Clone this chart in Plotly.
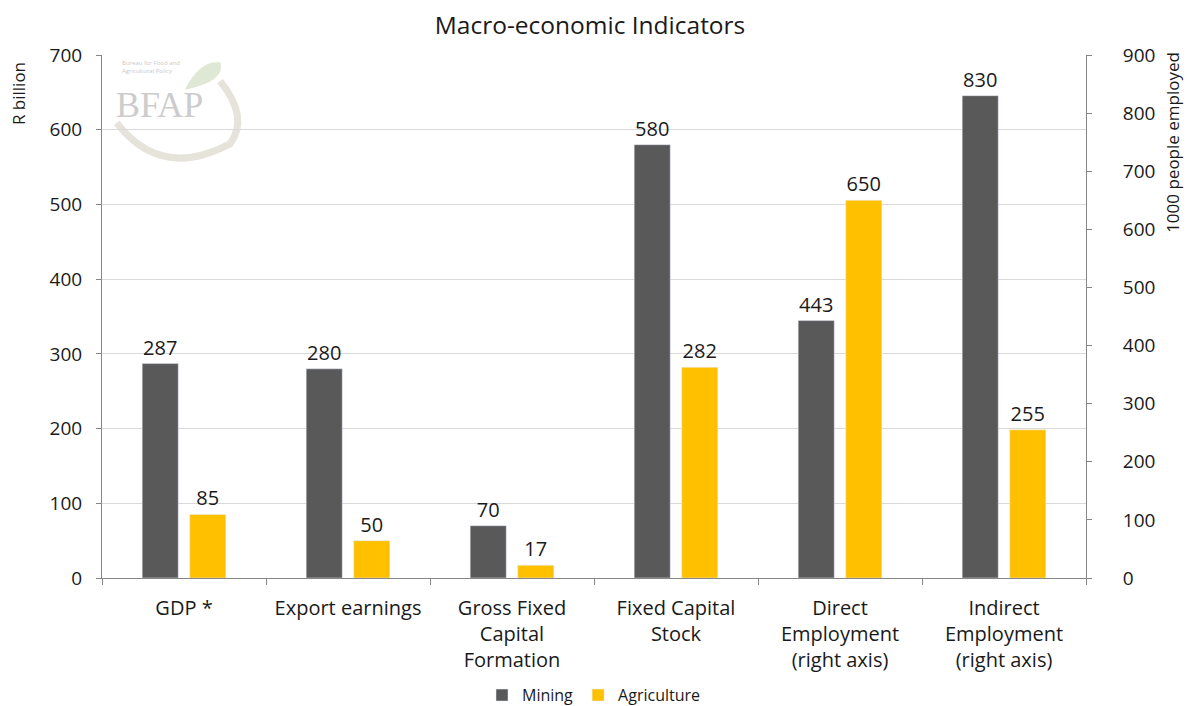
import plotly.graph_objects as go

categories = ["GDP *", "Export earnings", "Gross Fixed<br>Capital<br>Formation",
              "Fixed Capital<br>Stock", "Direct<br>Employment<br>(right axis)",
              "Indirect<br>Employment<br>(right axis)"]
mining_left = [287, 280, 70, 580, None, None]
agri_left = [85, 50, 17, 282, None, None]
mining_right = [None, None, None, None, 443, 830]
agri_right = [None, None, None, None, 650, 255]

MINING = "#595959"
AGRI = "#FFC000"
FONT = "Open Sans"
TXT = "#1a1a1a"

def labels(vals):
    return ["" if v is None else str(v) for v in vals]

fig = go.Figure()
W = 0.22
common = dict(textposition="outside", cliponaxis=False,
              textfont=dict(size=20, color=TXT, family=FONT), width=W)
fig.add_trace(go.Bar(x=categories, y=mining_left, name="Mining", marker_color=MINING,
                     offset=-0.255, text=labels(mining_left), legendgroup="m", **common))
fig.add_trace(go.Bar(x=categories, y=agri_left, name="Agriculture", marker_color=AGRI,
                     offset=0.035, text=labels(agri_left), legendgroup="a", **common))
fig.add_trace(go.Bar(x=categories, y=mining_right, name="Mining", marker_color=MINING,
                     offset=-0.255, text=labels(mining_right), legendgroup="m",
                     showlegend=False, yaxis="y2", **common))
fig.add_trace(go.Bar(x=categories, y=agri_right, name="Agriculture", marker_color=AGRI,
                     offset=0.035, text=labels(agri_right), legendgroup="a",
                     showlegend=False, yaxis="y2", **common))

axis_col = "#868686"
fig.update_layout(
    width=1184, height=698,
    margin=dict(l=94, r=106, t=47, b=128, autoexpand=False),
    paper_bgcolor="white", plot_bgcolor="white",
    barmode="overlay",
    font=dict(family=FONT, color=TXT),
    title=dict(text="Macro-economic Indicators", x=0.4916, xanchor="center",
               y=0.9756, yanchor="middle", font=dict(size=24.5, color=TXT)),
    xaxis=dict(type="category", tickson="boundaries", ticks="outside", ticklen=6,
               tickcolor=axis_col, showline=True, linecolor=axis_col, linewidth=1,
               tickfont=dict(size=20, color=TXT), showgrid=False, automargin=False,
               ticklabelstandoff=12),
    yaxis=dict(range=[0, 700], dtick=100, showline=True, linecolor=axis_col,
               ticks="outside", ticklen=5, tickcolor=axis_col,
               gridcolor="#d9d9d9", gridwidth=1, zeroline=False, automargin=False,
               tickfont=dict(size=19, color=TXT), ticklabelstandoff=10),
    yaxis2=dict(range=[0, 900], dtick=100, overlaying="y", side="right",
                showline=True, linecolor=axis_col, ticks="outside", ticklen=5,
                tickcolor=axis_col, showgrid=False, zeroline=False, automargin=False,
                tickfont=dict(size=19, color=TXT), ticklabelstandoff=27),
    legend=dict(orientation="h", x=0.5, xanchor="center", y=-0.224, yanchor="middle",
                font=dict(size=16, color=TXT), itemwidth=30,
                traceorder="normal"),
    showlegend=True,
)

fig.add_annotation(text="R billion", textangle=-90, xref="paper", yref="paper",
                   x=-0.085, y=0.99, xanchor="center", yanchor="top",
                   showarrow=False, font=dict(size=17, color=TXT))
fig.add_annotation(text="1000 people employed", textangle=-90, xref="paper", yref="paper",
                   x=1.088, y=1.01, xanchor="center", yanchor="top",
                   showarrow=False, font=dict(size=17, color=TXT))

# faint logo watermark
fig.add_shape(type="path", xref="paper", yref="paper",
              path="M 0.015,0.87 Q 0.06,0.76 0.13,0.83 Q 0.15,0.88 0.12,0.95",
              line=dict(color="#e6e3da", width=7), layer="below")
fig.add_shape(type="path", xref="paper", yref="paper",
              path="M 0.085,0.935 Q 0.10,0.99 0.12,0.985 Q 0.125,0.95 0.085,0.935 Z",
              line=dict(color="#dfe8d4", width=1), fillcolor="#dfe8d4", layer="below")
fig.add_annotation(text="BFAP", xref="paper", yref="paper", x=0.012, y=0.905,
                   xanchor="left", yanchor="middle", showarrow=False,
                   font=dict(size=36, color="#cccccc", family="Liberation Serif"))
fig.add_annotation(text="Bureau for Food and<br>Agricultural Policy", xref="paper", yref="paper",
                   x=0.018, y=0.978, xanchor="left", yanchor="middle", showarrow=False, align="left",
                   font=dict(size=6, color="#c9c9c9"))

fig.write_html("out.html")
